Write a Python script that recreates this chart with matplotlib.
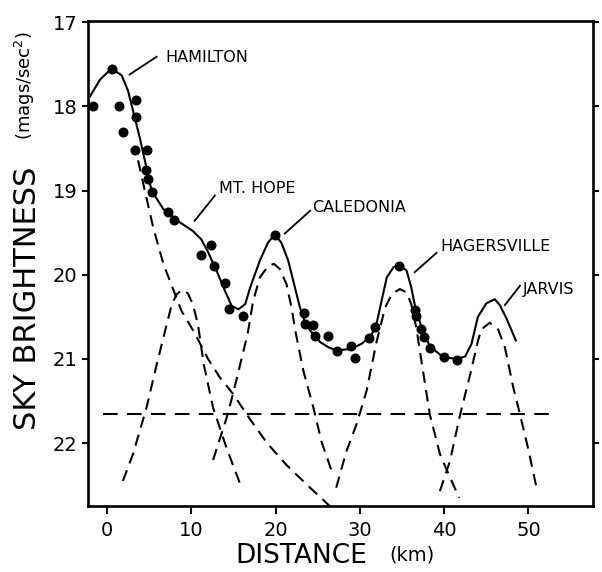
import matplotlib
matplotlib.use("Agg")
import matplotlib.pyplot as plt

# observed sky brightness
dist_km = [-1.7, 0.6, 1.4, 1.9, 3.5, 3.4, 3.3, 4.8, 4.6, 4.9, 5.4, 7.3, 8.0,
           11.2, 12.3, 12.65, 14.0, 14.5, 16.2, 19.9, 23.4, 23.5, 24.4, 24.7,
           26.2, 27.35, 29.0, 29.4, 31.1, 31.85, 34.6, 36.55, 36.65, 37.25,
           37.6, 38.3, 40.0, 41.55]
mags = [18.0, 17.55, 18.0, 18.3, 17.92, 18.12, 18.52, 18.52, 18.76, 18.86,
        19.02, 19.26, 19.35, 19.77, 19.65, 19.89, 20.1, 20.41, 20.49, 19.53,
        20.45, 20.59, 20.6, 20.73, 20.73, 20.9, 20.85, 20.99, 20.75, 20.62,
        19.9, 20.42, 20.49, 20.64, 20.74, 20.87, 20.98, 21.01]

# total model (solid)
model_x = [-2.0, -0.8, 0.55, 1.75, 2.5, 3.3, 3.9, 4.5, 5.3, 6.7, 8.7, 10.2,
           11.2, 12.0, 13.0, 14.0, 14.8, 15.6, 16.4, 17.0, 18.15, 19.1, 19.9,
           20.7, 21.5, 22.3, 22.9, 23.6, 24.6, 25.3, 26.25, 27.2, 29.0, 30.2,
           31.2, 31.9, 32.6, 33.2, 34.0, 34.75, 35.55, 36.1, 36.5, 37.3, 38.3,
           39.9, 41.55, 42.5, 43.25, 44.0, 45.0, 46.0, 46.6, 47.4, 48.5]
model_y = [17.88, 17.68, 17.55, 17.63, 17.81, 18.13, 18.37, 18.64, 19.0,
           19.22, 19.38, 19.48, 19.58, 19.73, 19.95, 20.19, 20.37, 20.41,
           20.35, 20.15, 19.83, 19.62, 19.52, 19.62, 19.83, 20.15, 20.39,
           20.6, 20.72, 20.8, 20.86, 20.9, 20.88, 20.82, 20.74, 20.62, 20.3,
           20.03, 19.91, 19.89, 19.95, 20.15, 20.35, 20.62, 20.85, 20.98,
           21.0, 20.97, 20.82, 20.5, 20.34, 20.29, 20.36, 20.52, 20.78]

# individual town contributions (dashed)
ham_x = [3.7, 4.5, 5.5, 6.7, 7.7, 8.85, 10.4, 12.0, 13.4, 15.0, 17.0, 19.0,
         21.3, 24.1, 26.45]
ham_y = [18.64, 19.0, 19.44, 19.87, 20.13, 20.43, 20.69, 21.0, 21.22, 21.42,
         21.72, 22.0, 22.26, 22.53, 22.75]
hope_x = [1.9, 3.1, 4.7, 5.9, 6.7, 7.7, 8.3, 8.9, 9.6, 10.2, 10.8, 11.5,
          12.6, 14.2, 16.05]
hope_y = [22.45, 22.13, 21.58, 21.07, 20.75, 20.35, 20.23, 20.18, 20.22,
          20.35, 20.59, 21.07, 21.58, 22.06, 22.55]
cal_x = [12.6, 14.2, 15.0, 15.8, 16.7, 17.35, 18.15, 19.1, 19.8, 20.5, 21.3,
         21.9, 22.4, 23.3, 24.5, 25.45, 26.65]
cal_y = [22.2, 21.7, 21.4, 21.07, 20.7, 20.31, 20.03, 19.9, 19.87, 19.93,
         20.11, 20.39, 20.69, 21.14, 21.58, 21.98, 22.33]
hag_x = [27.2, 28.4, 29.6, 30.8, 32.0, 33.0, 33.8, 34.75, 35.55, 36.1, 36.7,
         37.3, 38.3, 39.5, 40.7, 41.8]
hag_y = [22.53, 22.1, 21.78, 21.38, 20.79, 20.39, 20.23, 20.17, 20.21, 20.35,
         20.63, 21.02, 21.66, 22.13, 22.41, 22.65]
jar_x = [39.5, 40.7, 41.9, 43.1, 44.0, 44.4, 45.4, 46.4, 47.2, 48.2, 49.0,
         49.95, 51.0]
jar_y = [22.57, 22.21, 21.66, 21.18, 20.79, 20.65, 20.57, 20.65, 20.86, 21.34,
         21.66, 22.06, 22.55]
natural_x = [-0.4, 53.5]
natural_y = [21.66, 21.66]

towns = ["HAMILTON", "MT. HOPE", "CALEDONIA", "HAGERSVILLE", "JARVIS"]
label_xy = [(6.9, 17.42), (13.3, 18.97), (24.3, 19.2), (39.6, 19.67), (49.3, 20.17)]
leader_from = [(2.7, 17.62), (10.4, 19.36), (21.1, 19.51), (36.5, 19.97), (47.2, 20.36)]
leader_to = [(5.9, 17.41), (12.8, 19.06), (24.1, 19.24), (39.1, 19.74), (49.0, 20.13)]

fig = plt.figure(figsize=(6.02, 5.72), dpi=100)
ax = fig.add_axes([0.146, 0.115, 0.839, 0.849])

dash = (0, (5.5, 3.5))
for cx, cy in [(ham_x, ham_y), (hope_x, hope_y), (cal_x, cal_y),
               (hag_x, hag_y), (jar_x, jar_y)]:
    ax.plot(cx, cy, color="black", lw=1.5, linestyle=dash,
            dash_joinstyle="round")
ax.plot(natural_x, natural_y, color="black", lw=1.5, linestyle=(0, (7, 4.5)))
ax.plot(model_x, model_y, color="black", lw=1.5, solid_joinstyle="round")
ax.plot(dist_km, mags, "o", color="black", markersize=6.2, clip_on=False)

for name, (tx, ty), p0, p1 in zip(towns, label_xy, leader_from, leader_to):
    ax.plot([p0[0], p1[0]], [p0[1], p1[1]], color="black", lw=1.3)
    ax.text(tx, ty, name, fontsize=11.5, ha="left", va="center")

ax.set_xlim(-2.25, 57.65)
ax.set_ylim(22.75, 16.98)
ax.set_xticks([0, 10, 20, 30, 40, 50])
ax.set_yticks([17, 18, 19, 20, 21, 22])
ax.tick_params(axis="both", direction="out", width=1.5, labelsize=14,
               color="black")
ax.tick_params(axis="y", length=4.5, pad=3, right=True)
ax.tick_params(axis="x", length=6, pad=5)
for s in ax.spines.values():
    s.set_linewidth(1.9)

fig.text(0.045, 0.479, "SKY BRIGHTNESS", rotation=90, fontsize=22,
         ha="center", va="center")
fig.text(0.042, 0.85, "(mags/sec$^2$)", rotation=90, fontsize=13,
         ha="center", va="center")
fig.text(0.5, 0.028, "DISTANCE", fontsize=19, ha="center", va="center")
fig.text(0.685, 0.03, "(km)", fontsize=14, ha="center", va="center")

fig.savefig("out.png", dpi=100)
